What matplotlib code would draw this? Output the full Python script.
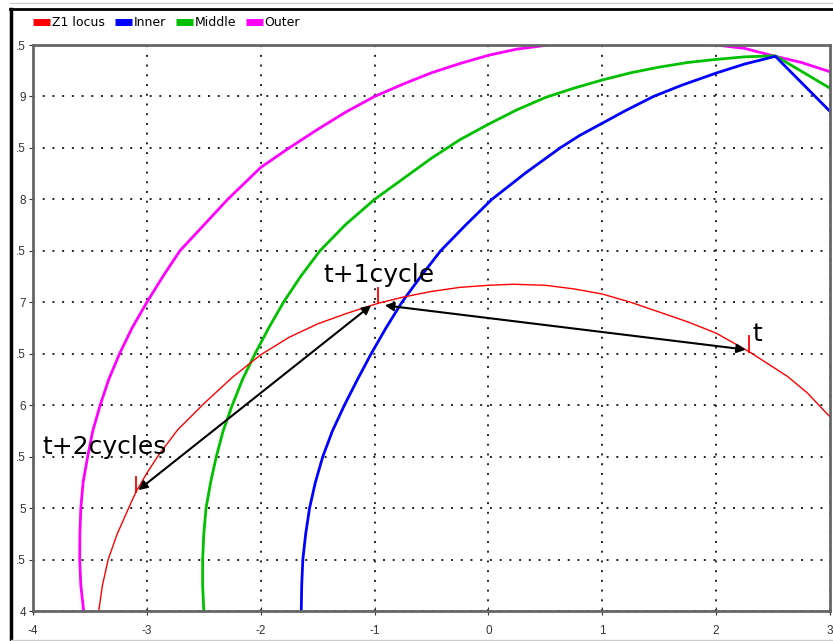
import matplotlib.pyplot as plt
from matplotlib.lines import Line2D

plt.rcParams['axes.unicode_minus'] = False

# Z1 impedance locus (R, X)
locus_r = [-3.423, -3.39, -3.34, -3.26, -3.16, -3.096, -3.0, -2.90, -2.73, -2.504,
           -2.25, -2.0, -1.75, -1.5, -1.25, -0.97, -0.75, -0.5, -0.25, 0.0,
           0.22, 0.5, 0.75, 1.0, 1.25, 1.5, 1.75, 2.0, 2.29, 2.626,
           2.8, 3.0]
locus_x = [4.0, 4.25, 4.5, 4.75, 5.0, 5.156, 5.34, 5.51, 5.76, 6.01,
           6.27, 6.49, 6.66, 6.79, 6.89, 6.99, 7.05, 7.105, 7.145, 7.165,
           7.175, 7.165, 7.13, 7.08, 7.0, 6.905, 6.81, 6.70, 6.52, 6.28,
           6.12, 5.886]

# zone boundaries
inner_r = [-1.644, -1.64, -1.63, -1.605, -1.571, -1.52, -1.455, -1.37, -1.265, -1.15,
           -1.03, -0.90, -0.76, -0.595, -0.42, -0.20, 0.03, 0.33, 0.63, 0.8,
           1.0, 1.2, 1.45, 1.7, 2.0, 2.25, 2.52, 3.0]
inner_x = [4.0, 4.25, 4.5, 4.75, 5.0, 5.25, 5.5, 5.75, 6.0, 6.25,
           6.5, 6.75, 7.0, 7.25, 7.5, 7.75, 8.0, 8.26, 8.5, 8.62,
           8.74, 8.86, 9.0, 9.11, 9.227, 9.315, 9.39, 8.855]

middle_r = [-2.50, -2.51, -2.51, -2.50, -2.48, -2.44, -2.39, -2.33, -2.25, -2.16,
            -2.05, -1.93, -1.80, -1.65, -1.48, -1.26, -1.0, -0.75, -0.5, -0.25,
            0.0, 0.25, 0.5, 0.75, 1.0, 1.25, 1.5, 1.75, 2.0, 2.25,
            2.52, 3.0]
middle_x = [4.0, 4.25, 4.5, 4.75, 5.0, 5.25, 5.5, 5.75, 6.0, 6.25,
            6.5, 6.75, 7.0, 7.25, 7.5, 7.75, 8.0, 8.20, 8.40, 8.58,
            8.73, 8.87, 8.99, 9.08, 9.16, 9.23, 9.285, 9.33, 9.36, 9.385,
            9.395, 9.08]

outer_r = [-3.555, -3.58, -3.59, -3.588, -3.58, -3.56, -3.52, -3.475, -3.41, -3.335,
           -3.24, -3.13, -3.0, -2.86, -2.71, -2.50, -2.29, -2.0, -1.75, -1.5,
           -1.25, -1.0, -0.75, -0.5, -0.25, 0.0, 0.25, 0.53]
outer_x = [4.0, 4.25, 4.5, 4.75, 5.0, 5.25, 5.5, 5.75, 6.0, 6.25,
           6.5, 6.75, 7.0, 7.25, 7.5, 7.75, 8.0, 8.31, 8.50, 8.68,
           8.85, 9.0, 9.12, 9.23, 9.32, 9.40, 9.46, 9.5]
outer2_r = [2.0, 2.25, 2.52, 2.75, 3.0]
outer2_x = [9.5, 9.467, 9.39, 9.33, 9.24]

# locus samples at t, t+1 cycle, t+2 cycles
pts_r = [2.29, -0.97, -3.096]
pts_x = [6.52, 6.99, 5.156]
labels = ["t", "t+1cycle", "t+2cycles"]
label_pos = [(2.32, 6.624), (-1.454, 7.197), (-3.915, 5.525)]

xticks = [-4, -3, -2, -1, 0, 1, 2, 3]
yticks = [4, 4.5, 5, 5.5, 6, 6.5, 7, 7.5, 8, 8.5, 9, 9.5]
ytick_labels = ["4", ".5", "5", ".5", "6", ".5", "7", ".5", "8", ".5", "9", ".5"]

W, H = 833, 641
fig = plt.figure(figsize=(W / 100, H / 100), dpi=100)
ax = fig.add_axes([33 / W, 1 - 611 / H, 797 / W, 566 / H])

ax.plot(outer_r, outer_x, color='#ff00ff', lw=2, label='Outer')
ax.plot(outer2_r, outer2_x, color='#ff00ff', lw=2)
ax.plot(middle_r, middle_x, color='#00c000', lw=2, label='Middle')
ax.plot(inner_r, inner_x, color='#0000ff', lw=2, label='Inner')
ax.plot(locus_r, locus_x, color='#ff0000', lw=1, label='Z1 locus')

for r, x in zip(pts_r, pts_x):
    ax.plot([r, r], [x, x + 0.15], color='#ff0000', lw=1.3)

# arrows between the cycles
ax.annotate('', xy=(2.26, 6.54), xytext=(-0.91, 6.97),
            arrowprops=dict(arrowstyle='<|-|>', color='black', lw=1.5,
                            mutation_scale=13, shrinkA=0, shrinkB=0))
ax.annotate('', xy=(-3.075, 5.175), xytext=(-1.03, 6.97),
            arrowprops=dict(arrowstyle='<|-|>', color='black', lw=1.5,
                            mutation_scale=13, shrinkA=0, shrinkB=0))

for txt, (r, x) in zip(labels, label_pos):
    ax.text(r, x, txt, fontsize=18, color='black', ha='left', va='baseline')

ax.set_xlim(-4, 3)
ax.set_ylim(4, 9.5)
ax.set_xticks(xticks)
ax.set_yticks(yticks)
ax.set_yticklabels(ytick_labels)
ax.grid(True, color='#222222', linestyle=(0, (1, 4)), lw=1.4)
for s in ax.spines.values():
    s.set_color('#666666')
    s.set_linewidth(2)
ax.tick_params(axis='y', direction='out', length=3, pad=2, labelsize=8.5, colors='#333333')
ax.tick_params(axis='x', direction='inout', length=6, pad=7, labelsize=8.5, colors='#333333')
for lab in ax.get_xticklabels() + ax.get_yticklabels():
    lab.set_fontfamily('Liberation Sans')
    lab.set_color('#333333')

handles = [Line2D([], [], color=c, lw=5, solid_capstyle='butt')
           for c in ['#ff0000', '#0000ff', '#00c000', '#ff00ff']]
fig.legend(handles, ['Z1 locus', 'Inner', 'Middle', 'Outer'], loc='center left',
           bbox_to_anchor=(33 / W, 1 - 23 / H), ncol=4, frameon=False, fontsize=9,
           handlelength=1.35, handletextpad=0.15, columnspacing=0.8, borderpad=0,
           borderaxespad=0)

# window frame of the original screenshot
fig.add_artist(Line2D([10 / W, 1], [1 - 3 / H, 1 - 3 / H], color='#cccccc', lw=1))
fig.add_artist(Line2D([10 / W, 1], [1 - 9 / H, 1 - 9 / H], color='black', lw=2))
fig.add_artist(Line2D([11 / W, 11 / W], [0, 1 - 9 / H], color='black', lw=2.5))
fig.add_artist(Line2D([11 / W, 1], [1 / H, 1 / H], color='#cccccc', lw=1))

fig.savefig('out.png', dpi=100)
